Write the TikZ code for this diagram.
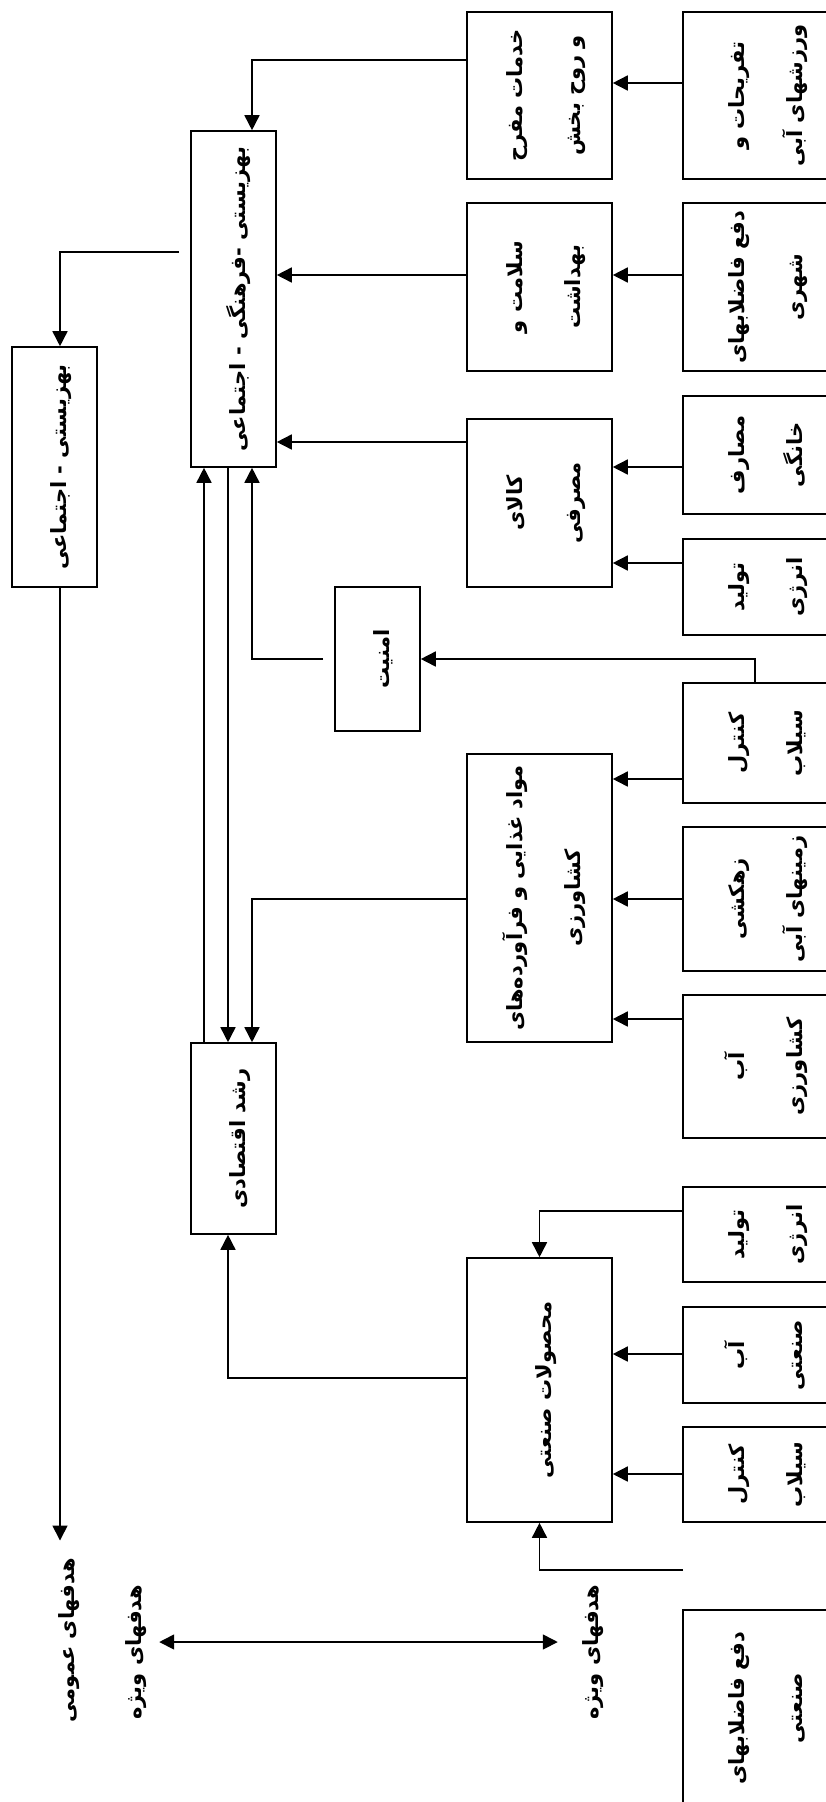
\documentclass[tikz,border=0pt]{standalone}
\usepackage{fontspec}
\usepackage{graphicx}
\usetikzlibrary{arrows.meta}
\newfontfamily\arabicfont[Script=Arabic]{DejaVu Sans}
\TeXXeTstate=1
\newcommand{\fa}[1]{\beginR #1\endR}
\newcommand{\vt}[1]{\rotatebox{90}{\begin{tabular}{@{}c@{}}#1\end{tabular}}}
\renewcommand{\arraystretch}{2.15}
\tikzset{
  txt/.style={inner sep=0pt, font=\arabicfont\bfseries\fontsize{21}{27}\selectfont},
  blk/.style={txt, draw, line width=1.6pt},
  rbox/.style={blk, minimum width=157pt},
  mbox/.style={blk, minimum width=145pt},
  lbox/.style={blk, minimum width=85pt},
  arr/.style={line width=1.6pt, -{Triangle[length=15pt,width=15pt]}}
}

\begin{document}
\begin{tikzpicture}[x=1pt, y=-1pt]
  \useasboundingbox (0,0) rectangle (826,1802);
  \clip (0,0) rectangle (826,1802);

  \node[rbox, minimum height=167pt] (r1) at (761.5,95.5) {\vt{\fa{تفریحات و}\\\fa{ورزشهای آبی}}};
  \node[rbox, minimum height=168pt] (r2) at (761.5,287) {\vt{\fa{دفع فاضلابهای}\\\fa{شهری}}};
  \node[rbox, minimum height=118pt] (r3) at (761.5,455) {\vt{\fa{مصارف}\\\fa{خانگی}}};
  \node[rbox, minimum height=96pt] (r4) at (761.5,587) {\vt{\fa{تولید}\\\fa{انرژی}}};
  \node[rbox, minimum height=120pt] (r5) at (761.5,743) {\vt{\fa{کنترل}\\\fa{سیلاب}}};
  \node[rbox, minimum height=144pt] (r6) at (761.5,899) {\vt{\fa{زهکشی}\\\fa{زمینهای آبی}}};
  \node[rbox, minimum height=143pt] (r7) at (761.5,1066.5) {\vt{\fa{آب}\\\fa{کشاورزی}}};
  \node[rbox, minimum height=95pt] (r8) at (761.5,1234.5) {\vt{\fa{تولید}\\\fa{انرژی}}};
  \node[rbox, minimum height=96pt] (r9) at (761.5,1355) {\vt{\fa{آب}\\\fa{صنعتی}}};
  \node[rbox, minimum height=95pt] (r10) at (761.5,1474.5) {\vt{\fa{کنترل}\\\fa{سیلاب}}};
  \node[rbox, minimum height=196pt] (r11) at (761.5,1708) {\vt{\fa{دفع فاضلابهای}\\\fa{صنعتی}}};

  \node[mbox, minimum height=167pt] (m1) at (539.5,95.5) {\vt{\fa{خدمات مفرح}\\\fa{و روح بخش}}};
  \node[mbox, minimum height=168pt] (m2) at (539.5,287) {\vt{\fa{سلامت و}\\\fa{بهداشت}}};
  \node[mbox, minimum height=168pt] (m3) at (539.5,503) {\vt{\fa{کالای}\\\fa{مصرفی}}};
  \node[mbox, minimum height=288pt] (m4) at (539.5,898) {\vt{\fa{مواد غذایی و فرآورده‌های}\\\fa{کشاورزی}}};
  \node[mbox, minimum height=264pt] (m5) at (539.5,1390) {\vt{\fa{محصولات صنعتی}}};
  \node[lbox, minimum height=144pt] (sec) at (377.5,659) {\vt{\fa{امنیت}}};

  \node[lbox, minimum height=336pt] (welf) at (233.5,299) {\vt{\fa{بهزیستی -فرهنگی - اجتماعی}}};
  \node[lbox, minimum height=191pt] (grow) at (233.5,1138.5) {\vt{\fa{رشد اقتصادی}}};
  \node[lbox, minimum height=240pt] (soc) at (54.5,467) {\vt{\fa{بهزیستی - اجتماعی}}};

  \node[txt] (gen) at (63,1640) {\vt{\fa{هدفهای عمومی}}};
  \node[txt] (spL) at (130,1652) {\vt{\fa{هدفهای ویژه}}};
  \node[txt] (spR) at (587,1652) {\vt{\fa{هدفهای ویژه}}};
  \coordinate (in5) at (683,1570);

  \foreach \a/\b/\y in {r1/m1/83, r2/m2/275, r3/m3/467, r4/m3/563, r5/m4/779, r6/m4/899,
                        r7/m4/1019, r9/m5/1354, r10/m5/1474, m2/welf/275, m3/welf/442}
    \draw[arr] (\a.west |- 0,\y) -- (\b.east |- 0,\y);
  \draw[arr] (r8.west |- 0,1211) -| (m5.north);
  \draw[arr] (in5) -| (m5.south);
  \draw[arr] (r5.north -| 755,0) |- (sec.east);
  \draw[arr] (m1.west |- 0,60) -| (welf.north -| 252,0);
  \draw[arr, shorten <=11pt] (sec.west) -| (welf.south -| 252,0);
  \draw[arr] (m4.west |- 0,899) -| (grow.north -| 252,0);
  \draw[arr] (m5.west |- 0,1378) -| (grow.south -| 228,0);
  \draw[arr] (grow.north -| 204,0) -- (welf.south -| 204,0);
  \draw[arr] (welf.south -| 228,0) -- (grow.north -| 228,0);
  \draw[arr, shorten <=11pt] (welf.west |- 0,252) -| (soc.north -| 60,0);
  \draw[arr, shorten >=17pt] (soc.south -| 60,0) -- (gen.north -| 60,0);
  \draw[line width=1.6pt, {Triangle[length=15pt,width=15pt]}-{Triangle[length=15pt,width=15pt]}]
    (spL.east |- 0,1642) -- (spR.west |- 0,1642);
\end{tikzpicture}
\end{document}
